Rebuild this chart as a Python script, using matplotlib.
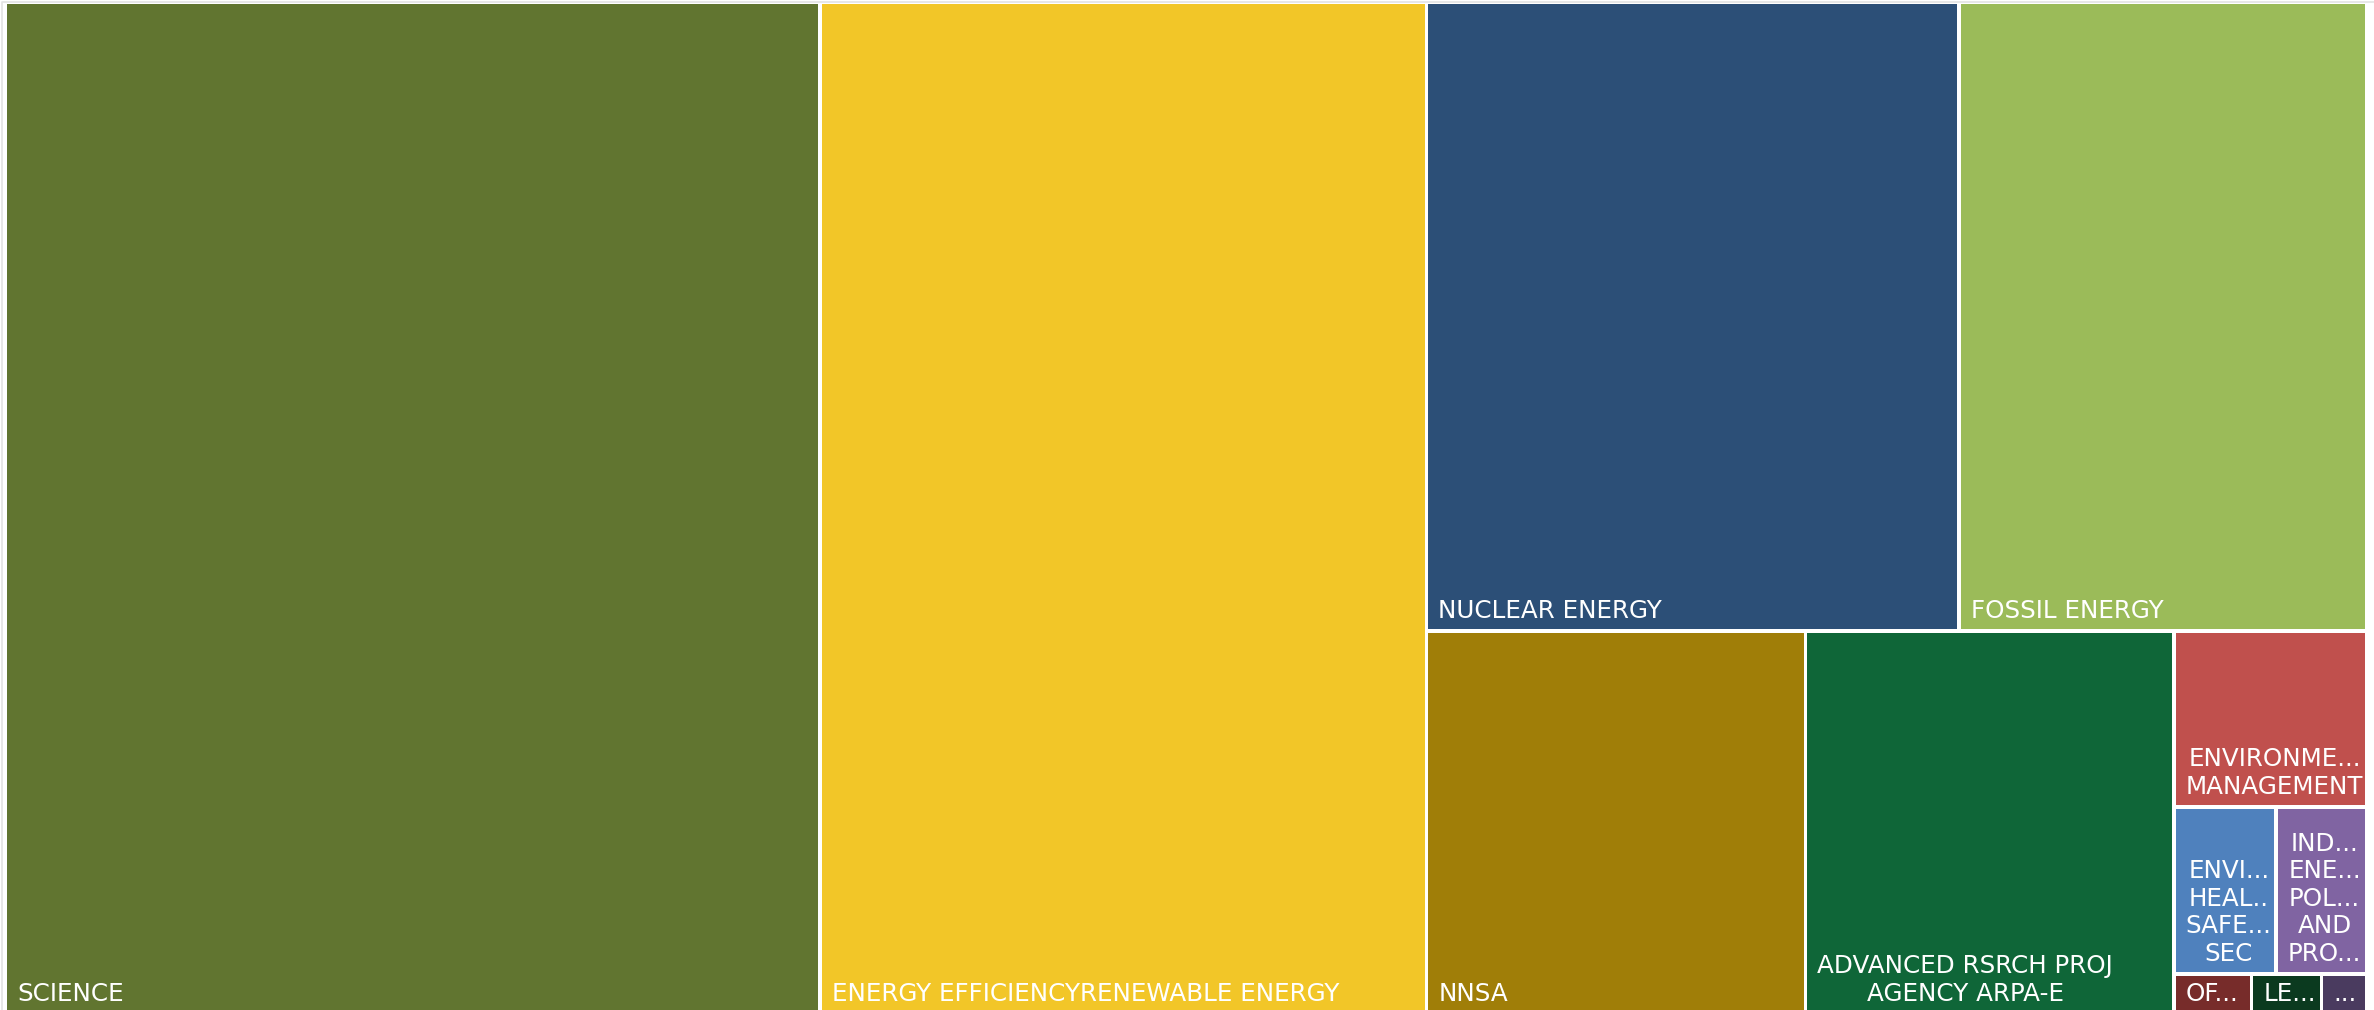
import matplotlib
matplotlib.use("Agg")
import matplotlib.pyplot as plt
import matplotlib.patches as patches

labels = ["SCIENCE",
          "ENERGY EFFICIENCYRENEWABLE ENERGY",
          "NUCLEAR ENERGY",
          "FOSSIL ENERGY",
          "NNSA",
          "ADVANCED RSRCH PROJ\nAGENCY ARPA-E",
          "ENVIRONME...\nMANAGEMENT",
          "ENVI...\nHEAL..\nSAFE...\nSEC",
          "IND...\nENE...\nPOL...\nAND\nPRO...",
          "OF...",
          "LE...",
          "..."]
values = [8239, 6135, 3347, 2561, 1452, 1411, 339, 170, 151, 31, 28, 18]
colors = ["#617530", "#F2C628", "#2C4F77", "#9BBB59", "#A07E08", "#0F6638",
          "#C0504D", "#4F81BD", "#8064A2", "#772C2A", "#0B3A1F", "#4A3B5F"]


def worst(row, side):
    s = sum(row)
    return max(max(side * side * r / (s * s), (s * s) / (side * side * r)) for r in row)


def squarify(vals, x, y, w, h):
    total = float(sum(vals))
    sizes = [v * w * h / total for v in vals]
    rects = []
    i = 0
    n = len(sizes)
    while i < n:
        side = min(w, h)
        row = [sizes[i]]
        j = i + 1
        while j < n and worst(row + [sizes[j]], side) <= worst(row, side):
            row.append(sizes[j])
            j += 1
        s = sum(row)
        if w >= h:
            cw = s / h
            yy = y
            for r in row:
                rh = r / cw
                rects.append((x, yy, cw, rh))
                yy += rh
            x += cw
            w -= cw
        else:
            rh = s / w
            xx = x
            for r in row:
                rw = r / rh
                rects.append((xx, y, rw, rh))
                xx += rw
            y += rh
            h -= rh
        i = j
    return rects


fig = plt.figure(figsize=(23.74, 10.10), dpi=100)
ax = fig.add_axes([0, 0, 1, 1])
ax.set_xlim(0, 2374)
ax.set_ylim(1010, 0)
ax.axis("off")

# light frame of the visual
ax.plot([2, 2, 2374], [1010, 1.5, 1.5], color="#E3E3E3", lw=1.2)

gap = 1.8
rects = squarify(values, 5.5, 2.5, 2361, 1011.5)
for (x, y, w, h), lab, c in zip(rects, labels, colors):
    ax.add_patch(patches.Rectangle((x + gap, y + gap), w - 2 * gap, h - 2 * gap,
                                   facecolor=c, edgecolor="none"))
    ax.text(x + gap + 10, y + h - gap - 6.5, lab, color="white", fontsize=17.7,
            ha="left", va="bottom", multialignment="center", linespacing=1.18,
            family="DejaVu Sans")

fig.savefig("out.png", dpi=100)
